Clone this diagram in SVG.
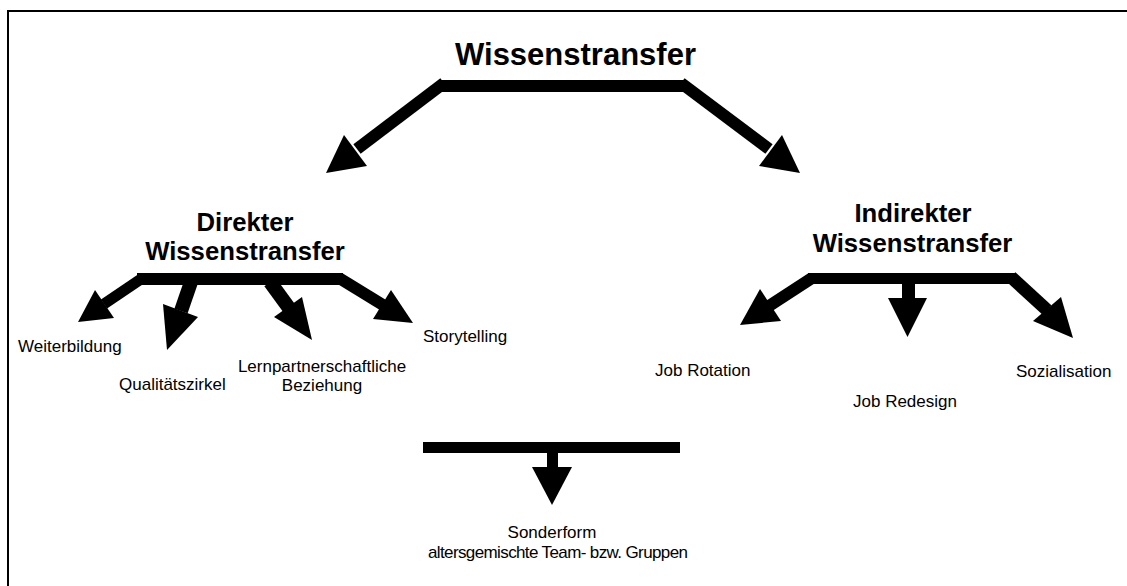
<svg xmlns="http://www.w3.org/2000/svg" width="1127" height="586" viewBox="0 0 1127 586">
  <style>
    .frame { fill: none; stroke: #000; stroke-width: 2; }
    .h1 { font-family: "Liberation Sans", Arial, sans-serif; font-weight: bold; font-size: 31px; fill: #000; }
    .h2 { font-family: "Liberation Sans", Arial, sans-serif; font-weight: bold; font-size: 25.7px; fill: #000; }
    .lbl { font-family: "Liberation Sans", Arial, sans-serif; font-size: 17px; fill: #000; }
    .c { text-anchor: middle; }
    .bar { stroke: #000; stroke-linecap: butt; fill: none; }
    .head { fill: #000; stroke: none; }
  </style>
  <rect width="1127" height="586" fill="#fff"/>
  <path class="frame" d="M8,586 L8,11 L1127,11"/>

  <g id="n-wissenstransfer">
    <text class="h1 c" x="575.5" y="65">Wissenstransfer</text>
  </g>
  <g id="n-direkter">
    <text class="h2 c" x="245" y="231">Direkter</text>
    <text class="h2 c" x="245" y="260">Wissenstransfer</text>
  </g>
  <g id="n-indirekter">
    <text class="h2 c" x="913" y="222">Indirekter</text>
    <text class="h2 c" x="912.5" y="252">Wissenstransfer</text>
  </g>
  <g id="n-weiterbildung">
    <text class="lbl" x="18" y="352">Weiterbildung</text>
  </g>
  <g id="n-qualitaetszirkel">
    <text class="lbl" x="119" y="390">Qualitätszirkel</text>
  </g>
  <g id="n-lernpartner">
    <text class="lbl c" x="322" y="372">Lernpartnerschaftliche</text>
    <text class="lbl c" x="322" y="391">Beziehung</text>
  </g>
  <g id="n-storytelling">
    <text class="lbl" x="423" y="342">Storytelling</text>
  </g>
  <g id="n-jobrotation">
    <text class="lbl" x="655" y="376">Job Rotation</text>
  </g>
  <g id="n-jobredesign">
    <text class="lbl" x="853" y="407">Job Redesign</text>
  </g>
  <g id="n-sozialisation">
    <text class="lbl" x="1016" y="377">Sozialisation</text>
  </g>
  <g id="n-sonderform">
    <text class="lbl c" x="552" y="538">Sonderform</text>
    <text class="lbl c" x="558" y="558" textLength="260" lengthAdjust="spacing">altersgemischte Team- bzw. Gruppen</text>
  </g>

  <g id="connectors">
    <!-- top level -->
    <line class="bar" x1="438" y1="86" x2="687" y2="86" stroke-width="12"/>
    <line class="bar" x1="444" y1="83" x2="357" y2="149" stroke-width="12"/>
    <polygon class="head" points="326,173 344,135 367,166"/>
    <line class="bar" x1="681" y1="83" x2="769" y2="149" stroke-width="12"/>
    <polygon class="head" points="800,173 782,135 759,166"/>

    <!-- direkter -->
    <line class="bar" x1="137" y1="279" x2="343" y2="279" stroke-width="12"/>
    <line class="bar" x1="141" y1="279" x2="104" y2="304" stroke-width="11"/>
    <polygon class="head" points="78,322 95,290 114,318"/>
    <line class="bar" x1="191" y1="282" x2="181" y2="311" stroke-width="14"/>
    <polygon class="head" points="167,350 163,304 198,317"/>
    <line class="bar" x1="270" y1="282" x2="289" y2="308" stroke-width="14"/>
    <polygon class="head" points="312,340 274,317 302,297"/>
    <line class="bar" x1="339" y1="278" x2="383" y2="305" stroke-width="12"/>
    <polygon class="head" points="413,323 391,290 373,319"/>

    <!-- indirekter -->
    <line class="bar" x1="808" y1="278.5" x2="1015" y2="278.5" stroke-width="11"/>
    <line class="bar" x1="812" y1="278" x2="769" y2="306" stroke-width="12"/>
    <polygon class="head" points="740,325 760,289 781,321"/>
    <line class="bar" x1="908.5" y1="283" x2="908.5" y2="299" stroke-width="13"/>
    <polygon class="head" points="907.5,337 888,298 927,298"/>
    <line class="bar" x1="1011" y1="277" x2="1047" y2="310" stroke-width="13"/>
    <polygon class="head" points="1073,338 1033,321 1061,297"/>

    <!-- sonderform -->
    <line class="bar" x1="423" y1="447.5" x2="680" y2="447.5" stroke-width="11"/>
    <line class="bar" x1="552.5" y1="452" x2="552.5" y2="468" stroke-width="11"/>
    <polygon class="head" points="552,505 532,467 572,467"/>
  </g>
</svg>
